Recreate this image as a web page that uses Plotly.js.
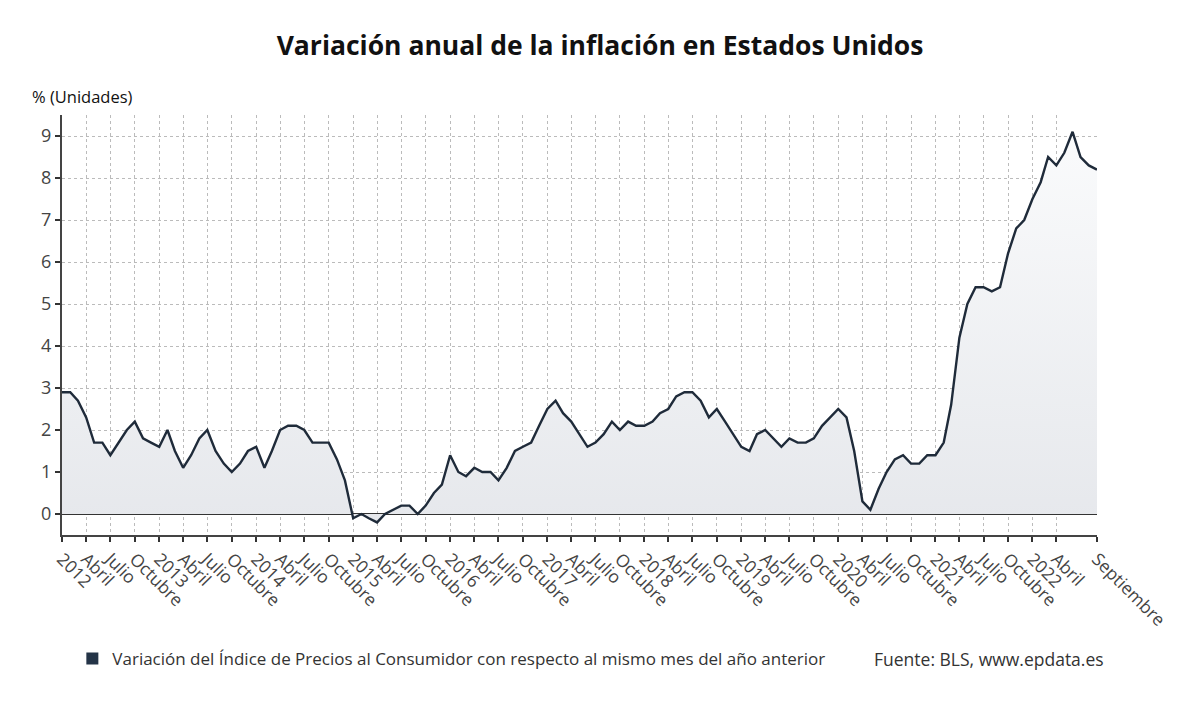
<!DOCTYPE html>
<html><head><meta charset="utf-8">
<script src="https://cdn.plot.ly/plotly-3.0.1.min.js"></script>
<style>html,body{margin:0;padding:0;background:#fff}#chart{width:1200px;height:705px}</style>
</head><body><div id="chart"></div>
<script>
const startYear = 2012;
const values2012 = [2.9, 2.9, 2.7, 2.3, 1.7, 1.7, 1.4, 1.7, 2.0, 2.2, 1.8, 1.7];
const values2013 = [1.6, 2.0, 1.5, 1.1, 1.4, 1.8, 2.0, 1.5, 1.2, 1.0, 1.2, 1.5];
const values2014 = [1.6, 1.1, 1.5, 2.0, 2.1, 2.1, 2.0, 1.7, 1.7, 1.7, 1.3, 0.8];
const values2015 = [-0.1, 0.0, -0.1, -0.2, 0.0, 0.1, 0.2, 0.2, 0.0, 0.2, 0.5, 0.7];
const values2016 = [1.4, 1.0, 0.9, 1.1, 1.0, 1.0, 0.8, 1.1, 1.5, 1.6, 1.7, 2.1];
const values2017 = [2.5, 2.7, 2.4, 2.2, 1.9, 1.6, 1.7, 1.9, 2.2, 2.0, 2.2, 2.1];
const values2018 = [2.1, 2.2, 2.4, 2.5, 2.8, 2.9, 2.9, 2.7, 2.3, 2.5, 2.2, 1.9];
const values2019 = [1.6, 1.5, 1.9, 2.0, 1.8, 1.6, 1.8, 1.7, 1.7, 1.8, 2.1, 2.3];
const values2020 = [2.5, 2.3, 1.5, 0.3, 0.1, 0.6, 1.0, 1.3, 1.4, 1.2, 1.2, 1.4];
const values2021 = [1.4, 1.7, 2.6, 4.2, 5.0, 5.4, 5.4, 5.3, 5.4, 6.2, 6.8, 7.0];
const values2022 = [7.5, 7.9, 8.5, 8.3, 8.6, 9.1, 8.5, 8.3, 8.2];
const quarterNames = ["Abril", "Julio", "Octubre"];
const lastMonthName = "Septiembre";
const seriesName = "Variación del Índice de Precios al Consumidor con respecto al mismo mes del año anterior";
const sourceText = "Fuente: BLS, www.epdata.es";

const yearly = [values2012, values2013, values2014, values2015, values2016, values2017,
                values2018, values2019, values2020, values2021, values2022];
const x = [], y = [];
yearly.forEach((arr, yi) => {
  arr.forEach((v, m) => {
    x.push((startYear + yi) + "-" + String(m + 1).padStart(2, "0") + "-01");
    y.push(v);
  });
});
const tickvals = [], ticktext = [];
const lastIdx = x.length - 1;
x.forEach((d, i) => {
  const m = i % 12;
  if (i === lastIdx) { tickvals.push(d); ticktext.push(lastMonthName); }
  else if (lastIdx - i < 3) { /* too close to the last label */ }
  else if (m === 0) { tickvals.push(d); ticktext.push(d.slice(0, 4)); }
  else if (m % 3 === 0) { tickvals.push(d); ticktext.push(quarterNames[m / 3 - 1]); }
});

const font = "'Open Sans', 'Noto Sans', sans-serif";
const traces = [
  {x: x, y: y, type: "scatter", mode: "lines", fill: "tozeroy",
   fillgradient: {type: "vertical", colorscale: [[0, "#e6e8ec"], [1, "#fafbfc"]]},
   line: {color: "#1f2b3a", width: 2.4}, showlegend: false, hoverinfo: "x+y"},
  {x: [null], y: [null], type: "scatter", mode: "markers", name: seriesName,
   marker: {symbol: "square", size: 12, color: "#243447"}, showlegend: true}
];
const layout = {
  width: 1200, height: 705,
  margin: {l: 62, r: 103, t: 115, b: 170},
  paper_bgcolor: "#fff", plot_bgcolor: "#fff",
  font: {family: font, color: "#444"},
  title: {text: "<b>Variación anual de la inflación en Estados Unidos</b>",
          font: {size: 26.5, color: "#111", family: font}, x: 0.5, xanchor: "center", y: 0.935, yanchor: "middle"},
  xaxis: {type: "date", range: [x[0], x[lastIdx]], tickvals: tickvals, ticktext: ticktext,
          tickangle: 45, tickfont: {size: 17.5, color: "#444"},
          showgrid: true, gridcolor: "#bbb", griddash: "dot", gridwidth: 1,
          showline: true, linecolor: "#444", linewidth: 2,
          ticks: "outside", ticklen: 5, tickcolor: "#333", tickwidth: 2, zeroline: false},
  yaxis: {range: [-0.5, 9.5], tickvals: [0,1,2,3,4,5,6,7,8,9], tickfont: {size: 18, color: "#444"},
          showgrid: true, gridcolor: "#bbb", griddash: "dot", gridwidth: 1,
          showline: true, linecolor: "#444", linewidth: 2,
          ticks: "outside", ticklen: 5, tickcolor: "#333", tickwidth: 2,
          zeroline: true, zerolinecolor: "#333", zerolinewidth: 2},
  legend: {orientation: "h", x: 0.01, xanchor: "left", y: -0.295, yanchor: "middle",
           font: {size: 17, color: "#333", family: font}, itemwidth: 30},
  annotations: [
    {text: "% (Unidades)", xref: "paper", yref: "paper", x: -0.031, y: 1.045, xanchor: "left", yanchor: "middle",
     showarrow: false, font: {size: 16.5, color: "#111", family: font}},
    {text: sourceText, xref: "paper", yref: "paper", x: 1.009, y: -0.295, xanchor: "right", yanchor: "middle",
     showarrow: false, font: {size: 17.5, color: "#333", family: font}}
  ]
};
Plotly.newPlot("chart", traces, layout, {displayModeBar: false, staticPlot: true});
</script></body></html>
